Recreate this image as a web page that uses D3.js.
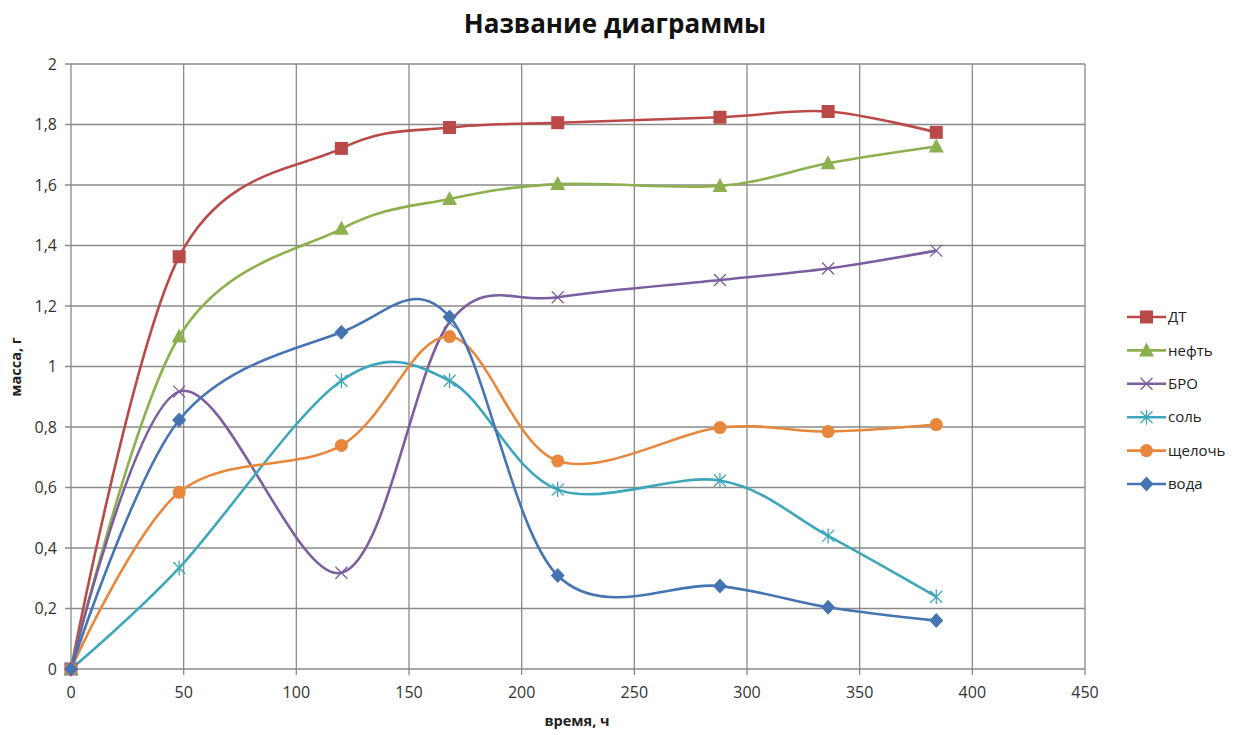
<!DOCTYPE html>
<html>
<head>
<meta charset="utf-8">
<script src="https://cdn.jsdelivr.net/npm/d3@7"></script>
<style>
  html, body { margin: 0; padding: 0; background: #fff; }
  svg { display: block; font-family: "Open Sans", "Noto Sans", sans-serif; }
</style>
</head>
<body>
<svg id="chart" width="1249" height="735"></svg>
<script>
// Время отбора проб, ч
const hours = [0, 48, 120, 168, 216, 288, 336, 384];

// Масса, г — по каждой среде
const dt      = [0, 1.363, 1.721, 1.790, 1.806, 1.824, 1.843, 1.774];
const neft    = [0, 1.099, 1.455, 1.554, 1.603, 1.597, 1.672, 1.727];
const bro     = [0, 0.917, 0.318, 1.146, 1.229, 1.286, 1.324, 1.383];
const sol     = [0, 0.334, 0.953, 0.953, 0.593, 0.623, 0.440, 0.239];
const shcheloch = [0, 0.584, 0.739, 1.099, 0.688, 0.798, 0.785, 0.808];
const voda    = [0, 0.823, 1.113, 1.164, 0.309, 0.274, 0.204, 0.160];

const seriesNames = ["ДТ", "нефть", "БРО", "соль", "щелочь", "вода"];
const seriesValues = [dt, neft, bro, sol, shcheloch, voda];
const seriesColors = ["#B94A48", "#8DB04F", "#7B5E9F", "#3EA6BC", "#E8873C", "#4474B2"];
const seriesMarkers = ["square", "triangle", "x", "star", "circle", "diamond"];

const xTicks = [0, 50, 100, 150, 200, 250, 300, 350, 400, 450];
const yTicks = [0, 0.2, 0.4, 0.6, 0.8, 1, 1.2, 1.4, 1.6, 1.8, 2];

const title = "Название диаграммы";
const xTitle = "время, ч";
const yTitle = "масса, г";

const svg = d3.select("#chart");
const plot = { left: 71, right: 1085, top: 64, bottom: 669 };

const x = d3.scaleLinear().domain([0, 450]).range([plot.left, plot.right]);
const y = d3.scaleLinear().domain([0, 2]).range([plot.bottom, plot.top]);

const fmt = v => String(+v.toFixed(1)).replace(".", ",");
const gridColor = "#8a8a8a";

// Сетка
svg.append("g")
  .selectAll("line.h")
  .data(yTicks)
  .join("line")
  .attr("x1", plot.left - 6).attr("x2", plot.right)
  .attr("y1", d => y(d)).attr("y2", d => y(d))
  .attr("stroke", gridColor).attr("stroke-width", 1.3);

svg.append("g")
  .selectAll("line.v")
  .data(xTicks)
  .join("line")
  .attr("x1", d => x(d)).attr("x2", d => x(d))
  .attr("y1", plot.top).attr("y2", plot.bottom + 6)
  .attr("stroke", gridColor).attr("stroke-width", 1.3);

// Подписи осей
svg.append("g")
  .selectAll("text")
  .data(yTicks)
  .join("text")
  .attr("x", plot.left - 14)
  .attr("y", d => y(d))
  .attr("dy", "0.36em")
  .attr("text-anchor", "end")
  .attr("font-size", 16)
  .attr("fill", "#333")
  .text(fmt);

svg.append("g")
  .selectAll("text")
  .data(xTicks)
  .join("text")
  .attr("x", d => x(d))
  .attr("y", plot.bottom + 29)
  .attr("text-anchor", "middle")
  .attr("font-size", 16)
  .attr("fill", "#333")
  .text(fmt);

// Заголовки
svg.append("text")
  .attr("x", 615).attr("y", 33)
  .attr("text-anchor", "middle")
  .attr("font-size", 26).attr("font-weight", "bold")
  .attr("fill", "#111")
  .text(title);

svg.append("text")
  .attr("x", 577).attr("y", 726)
  .attr("text-anchor", "middle")
  .attr("font-size", 14.5).attr("font-weight", "bold")
  .attr("fill", "#222")
  .text(xTitle);

svg.append("text")
  .attr("transform", "translate(21,367) rotate(-90)")
  .attr("text-anchor", "middle")
  .attr("font-size", 14.5).attr("font-weight", "bold")
  .attr("fill", "#222")
  .text(yTitle);

// Маркеры
function drawMarker(g, type, cx, cy, color) {
  switch (type) {
    case "square":
      g.append("rect").attr("x", cx - 6.5).attr("y", cy - 6.5)
        .attr("width", 13).attr("height", 13).attr("fill", color);
      break;
    case "triangle":
      g.append("path")
        .attr("d", `M${cx},${cy - 8} L${cx + 7.5},${cy + 6} L${cx - 7.5},${cy + 6} Z`)
        .attr("fill", color);
      break;
    case "circle":
      g.append("circle").attr("cx", cx).attr("cy", cy).attr("r", 6.5).attr("fill", color);
      break;
    case "diamond":
      g.append("path")
        .attr("d", `M${cx},${cy - 7.5} L${cx + 7},${cy} L${cx},${cy + 7.5} L${cx - 7},${cy} Z`)
        .attr("fill", color);
      break;
    case "x":
      g.append("path")
        .attr("d", `M${cx - 6},${cy - 6} L${cx + 6},${cy + 6} M${cx - 6},${cy + 6} L${cx + 6},${cy - 6}`)
        .attr("stroke", color).attr("stroke-width", 1.3).attr("fill", "none");
      break;
    case "star":
      g.append("path")
        .attr("d", `M${cx - 6},${cy - 6} L${cx + 6},${cy + 6} M${cx - 6},${cy + 6} L${cx + 6},${cy - 6} M${cx},${cy - 7.5} L${cx},${cy + 7.5}`)
        .attr("stroke", color).attr("stroke-width", 1.3).attr("fill", "none");
      break;
  }
}

// Линии серий (сглаженные)
const line = d3.line()
  .x((d, i) => x(hours[i]))
  .y(d => y(d))
  .curve(d3.curveCardinal.tension(0));

const seriesG = svg.append("g");
seriesValues.forEach((vals, si) => {
  seriesG.append("path")
    .attr("d", line(vals))
    .attr("fill", "none")
    .attr("stroke", seriesColors[si])
    .attr("stroke-width", 2.6)
    .attr("stroke-linejoin", "round");
});
seriesValues.forEach((vals, si) => {
  const g = seriesG.append("g");
  vals.forEach((v, i) => drawMarker(g, seriesMarkers[si], x(hours[i]), y(v), seriesColors[si]));
});

// Легенда
const legend = svg.append("g");
seriesNames.forEach((name, i) => {
  const ly = 317 + i * 33.4;
  legend.append("line")
    .attr("x1", 1127).attr("x2", 1166)
    .attr("y1", ly).attr("y2", ly)
    .attr("stroke", seriesColors[i]).attr("stroke-width", 2.6);
  drawMarker(legend, seriesMarkers[i], 1146.5, ly, seriesColors[i]);
  legend.append("text")
    .attr("x", 1168).attr("y", ly)
    .attr("dy", "0.35em")
    .attr("font-size", 15)
    .attr("fill", "#222")
    .text(name);
});
</script>
</body>
</html>
